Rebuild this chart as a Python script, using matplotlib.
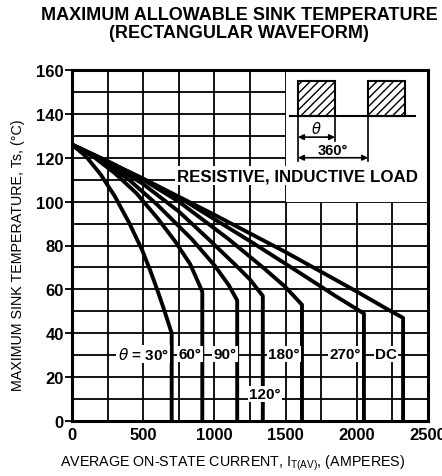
import matplotlib
matplotlib.use("Agg")
import matplotlib.pyplot as plt
from matplotlib.patches import Rectangle
from matplotlib.ticker import MultipleLocator

# ---- data ----
x_30 = [0, 100, 200, 300, 400, 492, 550, 604, 653, 700, 700]
y_30 = [126, 120.5, 112.5, 102.5, 90.5, 78, 68.5, 58.8, 49.5, 40, 0]

x_60 = [0, 150, 300, 450, 600, 723, 830, 915, 915]
y_60 = [126, 120.5, 113, 104, 92.5, 82, 71.5, 59, 0]

x_90 = [0, 200, 400, 600, 840, 1000, 1100, 1160, 1160]
y_90 = [126, 119, 110, 98.5, 83, 71, 62, 55, 0]

x_120 = [0, 250, 500, 750, 957, 1150, 1250, 1340, 1340]
y_120 = [126, 118, 108, 95.5, 83, 71, 64.5, 57, 0]

x_180 = [0, 250, 500, 750, 1098, 1350, 1500, 1615, 1615]
y_180 = [126, 118.5, 110, 100, 83, 69.5, 61, 53, 0]

x_270 = [0, 400, 800, 1250, 1600, 1850, 2050, 2050]
y_270 = [126, 113.5, 100, 82, 67.5, 57, 49, 0]

x_dc = [0, 500, 1000, 1500, 2000, 2200, 2325, 2325]
y_dc = [126, 110.5, 94, 77, 59, 51.5, 47, 0]

curves = [(x_30, y_30), (x_60, y_60), (x_90, y_90), (x_120, y_120),
          (x_180, y_180), (x_270, y_270), (x_dc, y_dc)]

curve_labels = ["$\\theta$ = 30°", "60°", "90°", "120°", "180°", "270°", "DC"]
label_x = [500, 830, 1075, 1355, 1489, 1917, 2205]
label_y = [30.5, 30.5, 30.5, 12.3, 30.5, 30.5, 30.5]

x_ticks = [0, 500, 1000, 1500, 2000, 2500]
y_ticks = [0, 20, 40, 60, 80, 100, 120, 140, 160]

# ---- figure ----
plt.rcParams['font.family'] = ['Liberation Sans', 'DejaVu Sans']
fig = plt.figure(figsize=(4.42, 4.77), dpi=100)
ax = fig.add_axes([72/442, 1-422/477, (428-72)/442, (422-71)/477])

ax.set_xlim(0, 2500)
ax.set_ylim(0, 160)
ax.set_xticks(x_ticks)
ax.set_yticks(y_ticks)
ax.xaxis.set_minor_locator(MultipleLocator(250))
ax.yaxis.set_minor_locator(MultipleLocator(10))
ax.set_axisbelow(True)
ax.grid(True, which='both', color='black', linewidth=1.3)
ax.tick_params(axis='x', which='both', length=0, pad=4)
ax.tick_params(axis='y', which='major', length=5, width=1.3, pad=1)
ax.tick_params(axis='y', which='minor', length=0)
for lbl in ax.get_xticklabels() + ax.get_yticklabels():
    lbl.set_fontweight('bold')
    lbl.set_fontsize(12)
for s in ax.spines.values():
    s.set_linewidth(2.2)

# white area for the inset
ax.add_patch(Rectangle((1500, 100), 1000, 60, facecolor='white',
                       edgecolor='none', zorder=1))

for cx, cy in curves:
    ax.plot(cx, cy, color='black', linewidth=2.8, zorder=2,
            solid_joinstyle='round')

for t, lx, ly in zip(curve_labels, label_x, label_y):
    ax.text(lx, ly, t, ha='center', va='center', fontsize=11,
            fontweight='bold', zorder=3,
            bbox=dict(facecolor='white', edgecolor='none', pad=1.0))

ax.text(740, 111.7, "RESISTIVE, INDUCTIVE LOAD", ha='left', va='center',
        fontsize=12.2, fontweight='bold', zorder=3,
        bbox=dict(facecolor='white', edgecolor='none', pad=1.5))

# inset waveform
for x0 in (1587, 2079):
    ax.add_patch(Rectangle((x0, 139), 259, 16, facecolor='white',
                           edgecolor='black', hatch='////', linewidth=1.5,
                           zorder=3))
ax.plot([1531, 2409], [139, 139], color='black', linewidth=1.5, zorder=3)
ax.plot([1587, 1587], [139, 118.5], color='black', linewidth=1.2, zorder=3)
ax.plot([1847, 1847], [139, 127.6], color='black', linewidth=1.2, zorder=3)
ax.plot([2079, 2079], [139, 118.5], color='black', linewidth=1.2, zorder=3)
ax.annotate("", xy=(1587, 129.4), xytext=(1847, 129.4),
            arrowprops=dict(arrowstyle='<|-|>', color='black', lw=1.2,
                            shrinkA=0, shrinkB=0, mutation_scale=8), zorder=3)
ax.annotate("", xy=(1587, 120), xytext=(2079, 120),
            arrowprops=dict(arrowstyle='<|-|>', color='black', lw=1.2,
                            shrinkA=0, shrinkB=0, mutation_scale=8), zorder=3)
ax.text(1717, 133.5, "$\\theta$", ha='center', va='center', fontsize=10.5,
        fontweight='bold', zorder=3)
ax.text(1833, 123.5, "360°", ha='center', va='center', fontsize=10.5,
        fontweight='bold', zorder=3)

# titles and axis labels
fig.text(239/442, 1-16/477, "MAXIMUM ALLOWABLE SINK TEMPERATURE",
         ha='center', va='center', fontsize=13, fontweight='bold')
fig.text(239/442, 1-33/477, "(RECTANGULAR WAVEFORM)",
         ha='center', va='center', fontsize=13, fontweight='bold')
fig.text(18/442, 1-255/477, "MAXIMUM SINK TEMPERATURE, Ts, (°C)",
         ha='center', va='center', rotation=90, fontsize=10.3)
fig.text(233/442, 1-463/477,
         "AVERAGE ON-STATE CURRENT, I$_{\\mathregular{T(AV)}}$, (AMPERES)",
         ha='center', va='center', fontsize=10.3)

fig.savefig("out.png", dpi=100)
